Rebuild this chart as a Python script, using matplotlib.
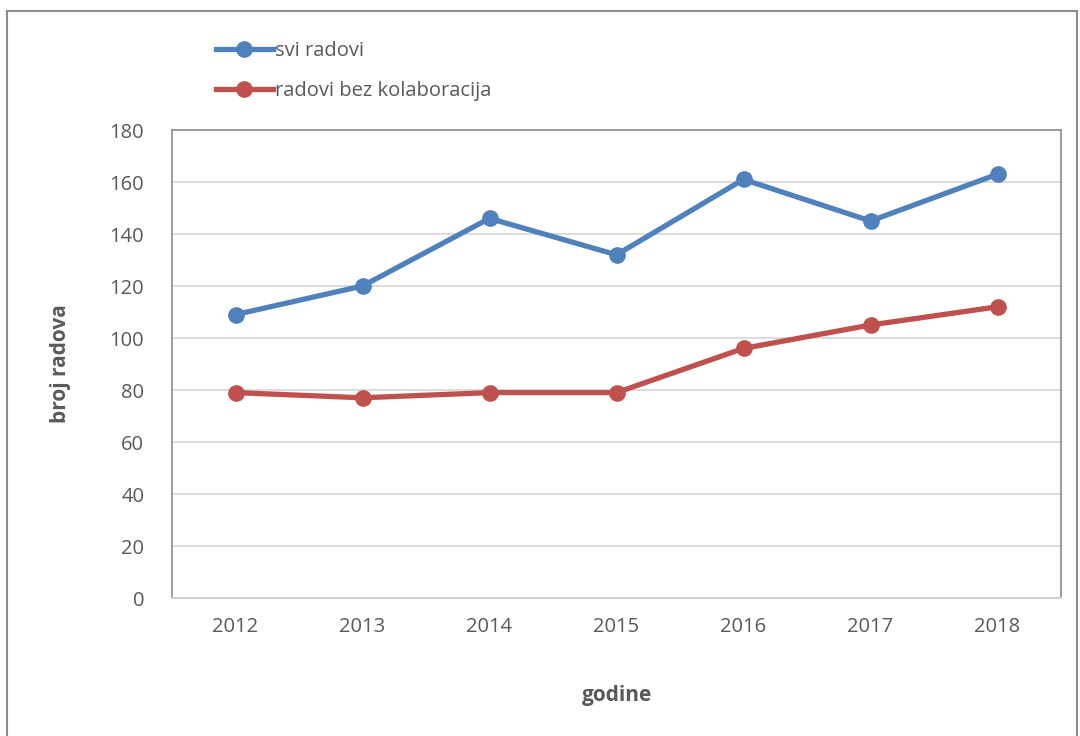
import matplotlib.pyplot as plt
from matplotlib.patches import Rectangle

plt.rcParams['font.family'] = ['Open Sans', 'DejaVu Sans']

godine = ['2012', '2013', '2014', '2015', '2016', '2017', '2018']
svi_radovi = [109, 120, 146, 132, 161, 145, 163]
bez_kolaboracija = [79, 77, 79, 79, 96, 105, 112]

siva = '#595959'
plava = '#4f81bd'
crvena = '#c0504d'

fig = plt.figure(figsize=(10.8, 7.36), dpi=100)
ax = fig.add_axes([172/1080, 1 - 598/736, (1061-172)/1080, (598-130)/736])

# okvir oko cijelog grafikona
fig.patches.append(Rectangle((7/1080, -0.05), (1077-7)/1080, 1 - 11/736 + 0.05,
                             transform=fig.transFigure, fill=False,
                             edgecolor='#8c8c8c', lw=1.5))

x = range(len(godine))
l1, = ax.plot(x, svi_radovi, color=plava, lw=3.8, marker='o', ms=11, label='svi radovi')
l2, = ax.plot(x, bez_kolaboracija, color=crvena, lw=3.8, marker='o', ms=11,
              label='radovi bez kolaboracija')

ax.set_xlim(-0.5, 6.5)
ax.set_ylim(0, 180)
ax.set_yticks(range(0, 181, 20))
ax.set_xticks(list(x))
ax.set_xticklabels(godine)
ax.grid(axis='y', color='#d9d9d9', lw=1.3)
ax.set_axisbelow(True)
ax.tick_params(length=0, labelsize=14.5, labelcolor=siva, pad=14)
ax.tick_params(axis='y', pad=20)

for s in ['top', 'right', 'left']:
    ax.spines[s].set_linestyle((0, (1, 1)))
    ax.spines[s].set_color('#8c8c8c')
    ax.spines[s].set_linewidth(1.2)
ax.spines['bottom'].set_color('#d0d0d0')
ax.spines['bottom'].set_linewidth(1.5)

ax.set_ylabel('broj radova', fontsize=15, fontweight='bold', color=siva, labelpad=28)
ax.set_xlabel('godine', fontsize=15, fontweight='bold', color=siva, labelpad=34)

fig.legend(handles=[l1, l2], loc='upper left', bbox_to_anchor=(198/1080, 1 - 23/736),
           frameon=False, fontsize=14.5, labelcolor=siva, handlelength=2.8,
           handletextpad=0.1, labelspacing=1.0)

fig.savefig('out.png', dpi=100)
